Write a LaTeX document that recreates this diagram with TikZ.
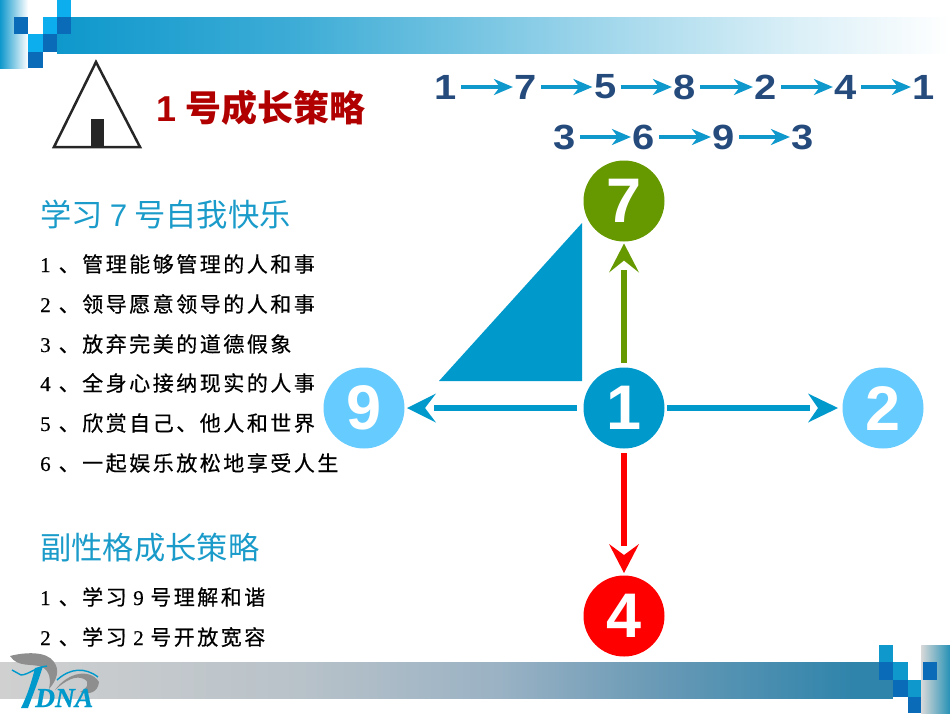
\documentclass[tikz,border=0pt]{standalone}
\usepackage{fontspec}
\usetikzlibrary{arrows.meta,calc}
\setmainfont{Liberation Sans}
\newfontfamily\cjk{Noto Sans CJK SC}
\newfontfamily\listfont[LetterSpace=12,FakeBold=0.5]{Noto Sans CJK SC}
\newfontfamily\numfont[FakeBold=0.5]{Liberation Serif}
\newfontfamily\logofont[FakeBold=0.6]{Liberation Serif}
\newfontfamily\chainfont[FakeStretch=1.14]{Liberation Sans}
\definecolor{cgreen}{HTML}{669900}
\definecolor{clight}{HTML}{66CCFF}
\definecolor{cblue}{HTML}{0099CC}
\definecolor{cred}{HTML}{FF0000}
\definecolor{cnavy}{HTML}{254A7C}
\definecolor{ctitle}{HTML}{B00000}
\definecolor{chead}{HTML}{1A9BC9}
\definecolor{cdark}{HTML}{0A6CB8}
\definecolor{cbright}{HTML}{0CAEEE}
\definecolor{cmid}{HTML}{0E98CC}
\definecolor{cgrey}{HTML}{8E8E8E}
\pgfdeclarehorizontalshading{topband}{100bp}{
  color(0bp)=(cmid);
  color(25bp)=(cmid);
  color(38.5bp)=(cmid!80!white);
  color(47bp)=(cmid!60!white);
  color(56.5bp)=(cmid!37!white);
  color(66.5bp)=(cmid!15!white);
  color(75bp)=(white);
  color(100bp)=(white)}
\definecolor{bb0}{HTML}{D0D0D0}
\definecolor{bb1}{HTML}{B8C2C9}
\definecolor{bb2}{HTML}{9AB2C4}
\definecolor{bb3}{HTML}{6A9AB6}
\definecolor{bb4}{HTML}{2F84AB}
\pgfdeclarehorizontalshading{bottomband}{100bp}{
  color(0bp)=(bb0);
  color(25bp)=(bb0);
  color(41.5bp)=(bb1);
  color(52.5bp)=(bb2);
  color(61bp)=(bb3);
  color(72bp)=(bb4);
  color(100bp)=(bb4)}
\newcommand{\lnum}[1]{\makebox[18.5pt][l]{\numfont #1}}
\newcommand{\inum}[1]{\makebox[23.5pt][c]{\numfont #1}}
\tikzset{
  x=1pt,y=-1pt,
  bignode/.style={circle,minimum size=81pt,inner sep=0pt,outer sep=0pt,text=white,font=\fontsize{63}{63}\selectfont\bfseries},
  chainnum/.style={inner sep=0pt,outer sep=0pt,minimum width=20pt,text=cnavy,font=\fontsize{35}{35}\selectfont\chainfont\bfseries},
  chainarrow/.style={draw=cmid,line width=3.2pt,shorten <=4pt,shorten >=2pt,-{Stealth[length=19pt,width=16pt,inset=6pt]}},
  headtext/.style={anchor=base west,inner sep=0pt,text=chead,font=\fontsize{31.3}{31.3}\selectfont\cjk},
  listtext/.style={anchor=base west,inner sep=0pt,text=black,font=\fontsize{21}{21}\selectfont\listfont},
}
\begin{document}
\begin{tikzpicture}
\useasboundingbox (0,0) rectangle (950,713);
% top band
\shade[shading=topband] (57,17) rectangle (950,53);
\fill[white] (43,17) rectangle (71,34);
\shade[left color=cmid,right color=white] (0,0) rectangle (28,68);
\fill[white] (28,0) rectangle (57,17);
\fill[white] (28,17) rectangle (43,34);
\fill[cdark] (14,17) rectangle (28,34);
\fill[cbright] (57,0) rectangle (71,17);
\fill[cbright] (43,17) rectangle (57,34);
\fill[cdark] (57,17) rectangle (71,34);
\fill[cbright] (28,34) rectangle (43,52);
\fill[cdark] (43,34) rectangle (57,52);
\fill[cdark] (28,52) rectangle (43,68);
% bottom band
\shade[shading=bottomband] (0,662) rectangle (908,698);
\shade[left color=black!15,right color=cblue!70!gray] (921,645) rectangle (950,713);
\fill[cmid] (879,645) rectangle (893,662);
\fill[cdark] (879,662) rectangle (893,680);
\fill[cmid] (893,662) rectangle (908,680);
\fill[white] (908,662) rectangle (921,680);
\fill[cdark] (893,680) rectangle (908,697);
\fill[cmid] (908,680) rectangle (921,697);
\fill[white] (893,697) rectangle (908,713);
\fill[cdark] (908,697) rectangle (921,713);
\fill[cdark] (923,662) rectangle (937,680);
% logo
\fill[cgrey] (10,656) .. controls (25,652) and (47,651) .. (54,662) .. controls (60,670) and (57,680) .. (49,689) .. controls (51,680) and (50,671) .. (42,667) .. controls (32,663) and (18,668) .. (10,656) -- cycle;
\fill[cgrey] (55,690) .. controls (68,672) and (90,668) .. (99,682) .. controls (98,692) and (90,695) .. (80,692) .. controls (88,688) and (90,682) .. (84,679) .. controls (76,675) and (66,680) .. (55,690) -- cycle;
\draw[cblue,line width=1.4pt] (57,680) .. controls (70,668) and (85,667) .. (98,677);
\draw[cblue,line width=1.4pt] (12,670) -- (21,675) .. controls (28,675) and (36,667) .. (47,666);
\fill[cblue] (35,668) -- (43,666) .. controls (38,682) and (32,697) .. (28,708) -- (21,708) .. controls (28,694) and (32,680) .. (35,668) -- cycle;
\node[inner sep=0pt,anchor=base west,text=cblue,font=\fontsize{27.5}{27.5}\selectfont\logofont\bfseries\itshape] (logotext) at (35,707) {DNA};
% house symbol
\draw[draw=black!85,line width=2.5pt,line join=miter] (96,62) -- (54,147) -- (140,147) -- cycle;
\fill[black!85] (91,119) rectangle (104,147);
% title
\node[anchor=base west,inner sep=0pt,text=ctitle,font=\fontsize{36}{36}\selectfont\bfseries] (title) at (156,121) {1\hspace{9pt}{\cjk\bfseries 号成长策略}};
% chains
\node[chainnum] (a1) at (446,87) {1};
\node[chainnum] (a2) at (526,87) {7};
\node[chainnum] (a3) at (605.5,87) {5};
\node[chainnum] (a4) at (685,87) {8};
\node[chainnum] (a5) at (766,87) {2};
\node[chainnum] (a6) at (846,87) {4};
\node[chainnum] (a7) at (924,87) {1};
\node[chainnum] (b1) at (565,137) {3};
\node[chainnum] (b2) at (644,137) {6};
\node[chainnum] (b3) at (724,137) {9};
\node[chainnum] (b4) at (803,137) {3};
\foreach \p/\q in {a1/a2,a2/a3,a3/a4,a4/a5,a5/a6,a6/a7,b1/b2,b2/b3,b3/b4}
  \draw[chainarrow] (\p) -- (\q);
% blue triangle
\fill[cblue] (439,381) -- (582,381) -- (582,223) -- cycle;
% circles
\node[bignode,fill=cgreen] (n7) at (624,201) {7};
\node[bignode,fill=clight] (n9) at (364,408) {9};
\node[bignode,fill=cblue] (n1) at (624,408) {1};
\node[bignode,fill=clight] (n2) at (883,408) {2};
\node[bignode,fill=cred] (n4) at (624,616) {4};
% connectors
\draw[cgreen,line width=6pt,shorten <=4.5pt,shorten >=28.5pt] (n1) -- (n7);
\fill[cgreen] ($(n7.south)+(0,2)$) -- ++(-15,29) -- ++(15,-12) -- ++(15,12) -- cycle;
\draw[cblue,line width=6pt,shorten <=6.5pt,shorten >=29.5pt] (n1) -- (n9);
\fill[cblue] ($(n9.east)+(2.5,0)$) -- ++(29,-14.5) -- ++(-11,14.5) -- ++(11,14.5) -- cycle;
\draw[cblue,line width=6pt,shorten <=2.5pt,shorten >=32.5pt] (n1) -- (n2);
\fill[cblue] ($(n2.west)+(-4.5,0)$) -- ++(-30,-14.5) -- ++(10,14.5) -- ++(-10,14.5) -- cycle;
\draw[cred,line width=5.5pt,shorten <=4.5pt,shorten >=29.5pt] (n1) -- (n4);
\fill[cred] ($(n4.north)+(0,-2.5)$) -- ++(-15,-29) -- ++(15,11) -- ++(15,-11) -- cycle;
% left texts
\node[headtext] (h1) at (40,226) {学习 {\fontspec{Liberation Sans}7} 号自我快乐};
\node[listtext] (l1) at (40,272) {\lnum{1}、管理能够管理的人和事};
\node[listtext] (l2) at (40,312) {\lnum{2}、领导愿意领导的人和事};
\node[listtext] (l3) at (40,352) {\lnum{3}、放弃完美的道德假象};
\node[listtext] (l4) at (40,391) {\lnum{4}、全身心接纳现实的人事};
\node[listtext] (l5) at (40,431) {\lnum{5}、欣赏自己、他人和世界};
\node[listtext] (l6) at (40,471) {\lnum{6}、一起娱乐放松地享受人生};
\node[headtext] (h2) at (40,559) {副性格成长策略};
\node[listtext] (m1) at (40,605) {\lnum{1}、学习\inum{9}号理解和谐};
\node[listtext] (m2) at (40,645) {\lnum{2}、学习\inum{2}号开放宽容};
\end{tikzpicture}
\end{document}
